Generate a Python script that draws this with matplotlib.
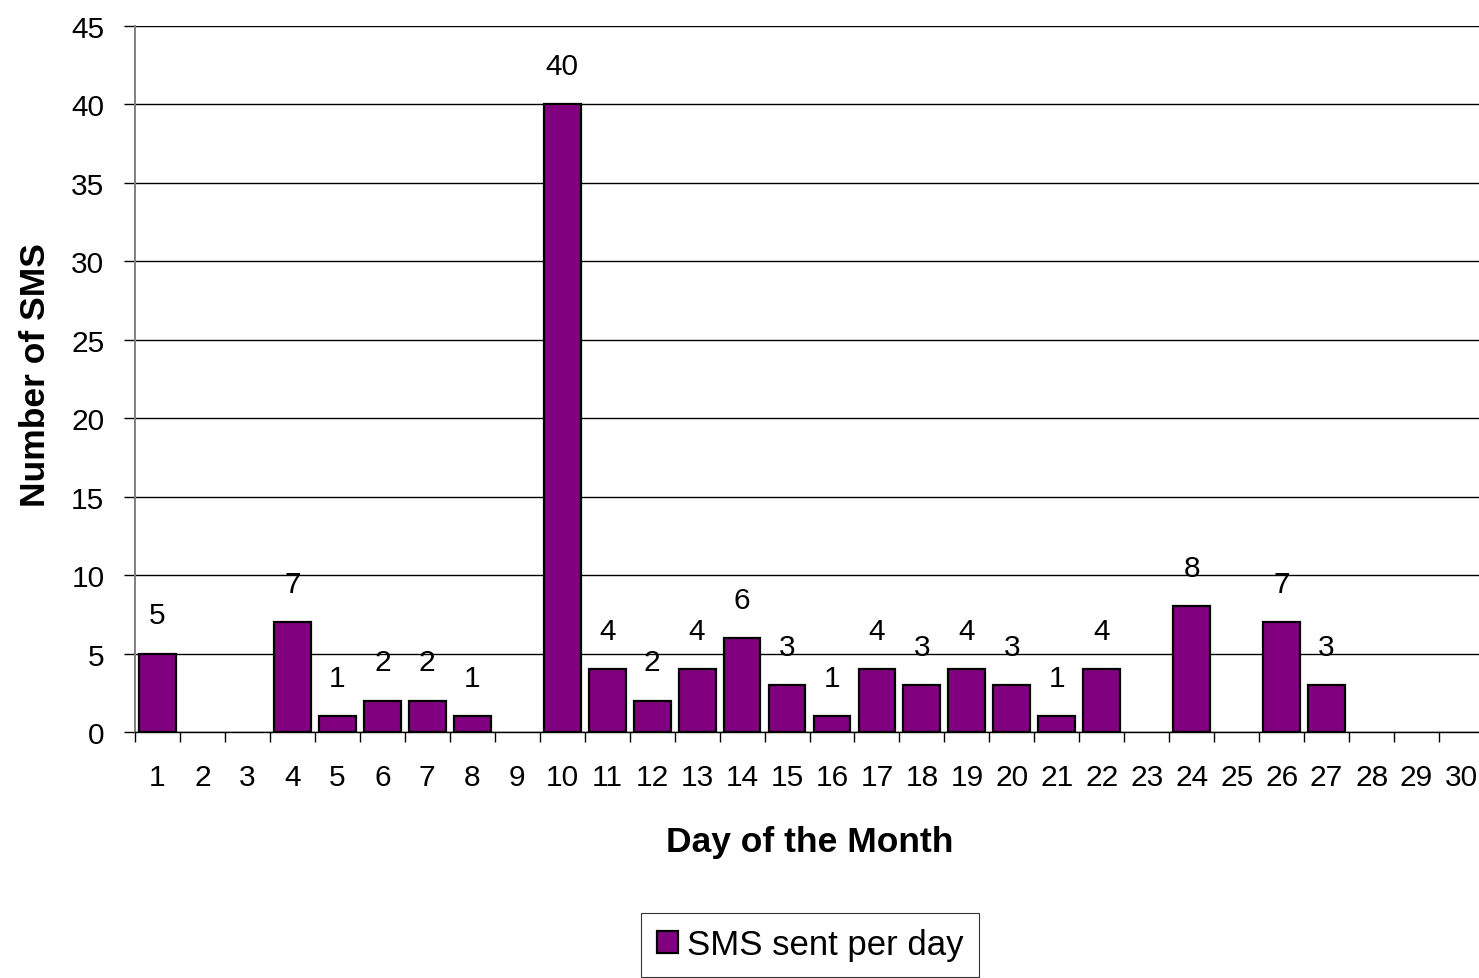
import matplotlib.pyplot as plt
import numpy as np

# SMS counts for each day of the month
days = list(range(1, 31))
sms_counts = [5, 0, 0, 7, 1, 2, 2, 1, 0, 40, 4, 2, 4, 6, 3, 1, 4, 3, 4, 3,
              1, 4, 0, 8, 0, 7, 3, 0, 0, 0]

plt.rcParams['font.family'] = ['Liberation Sans', 'DejaVu Sans']

fig = plt.figure(figsize=(14.79, 9.79), dpi=100)
# axes run slightly past the right edge, like the exported chart
ax = fig.add_axes([135 / 1479, 246 / 979, 1349 / 1479, 706 / 979])

x = np.arange(len(days))
# empty days get no outline so they don't show up as flat lines
edge_widths = [1.6 if v > 0 else 0 for v in sms_counts]
bars = ax.bar(x, sms_counts, width=0.82, color='#800080', edgecolor='black',
              linewidth=edge_widths, zorder=3, label='SMS sent per day')

# value labels above non-empty bars
for xi, v in zip(x, sms_counts):
    if v > 0:
        ax.annotate(str(v), (xi, v), xytext=(0, 27.5), textcoords='offset points',
                    ha='center', va='center', fontsize=21.5)

ax.set_xlim(-0.5, len(days) - 0.5)
ax.set_ylim(0, 45)
ax.set_yticks(range(0, 46, 5))
ax.yaxis.grid(True, color='black', linewidth=1.0, zorder=0)

# ticks at category boundaries, labels centred under each category
ax.set_xticks(np.arange(-0.5, len(days), 1.0))
ax.set_xticklabels([])
ax.set_xticks(x, minor=True)
ax.set_xticklabels([str(d) for d in days], minor=True, fontsize=21.5)
ax.tick_params(axis='x', which='major', length=7, width=1.0, direction='out')
ax.tick_params(axis='x', which='minor', length=0, pad=22)
ax.tick_params(axis='y', length=8, width=1.0, direction='out', pad=14, labelsize=21.5)

for side in ['top', 'right']:
    ax.spines[side].set_visible(False)
ax.spines['left'].set_color('#808080')
ax.spines['left'].set_linewidth(1.4)
ax.spines['bottom'].set_color('black')
ax.spines['bottom'].set_linewidth(1.0)

ax.set_xlabel('Day of the Month', fontsize=25.5, fontweight='bold', va='center')
ax.set_ylabel('Number of SMS', fontsize=25.5, fontweight='bold', va='center')
ax.xaxis.set_label_coords(0.5, -0.155)
ax.yaxis.set_label_coords(-0.0741, 0.507)

leg = fig.legend(handles=[bars], labels=['SMS sent per day'], loc='center',
                 bbox_to_anchor=(810 / 1479, 1 - 946 / 979), fontsize=25,
                 frameon=True, fancybox=False, edgecolor='black',
                 handlelength=0.6, handleheight=0.6, handletextpad=0.25,
                 borderpad=0.45, borderaxespad=0)
leg.get_frame().set_linewidth(0.8)

fig.savefig('out.png', dpi=100)
